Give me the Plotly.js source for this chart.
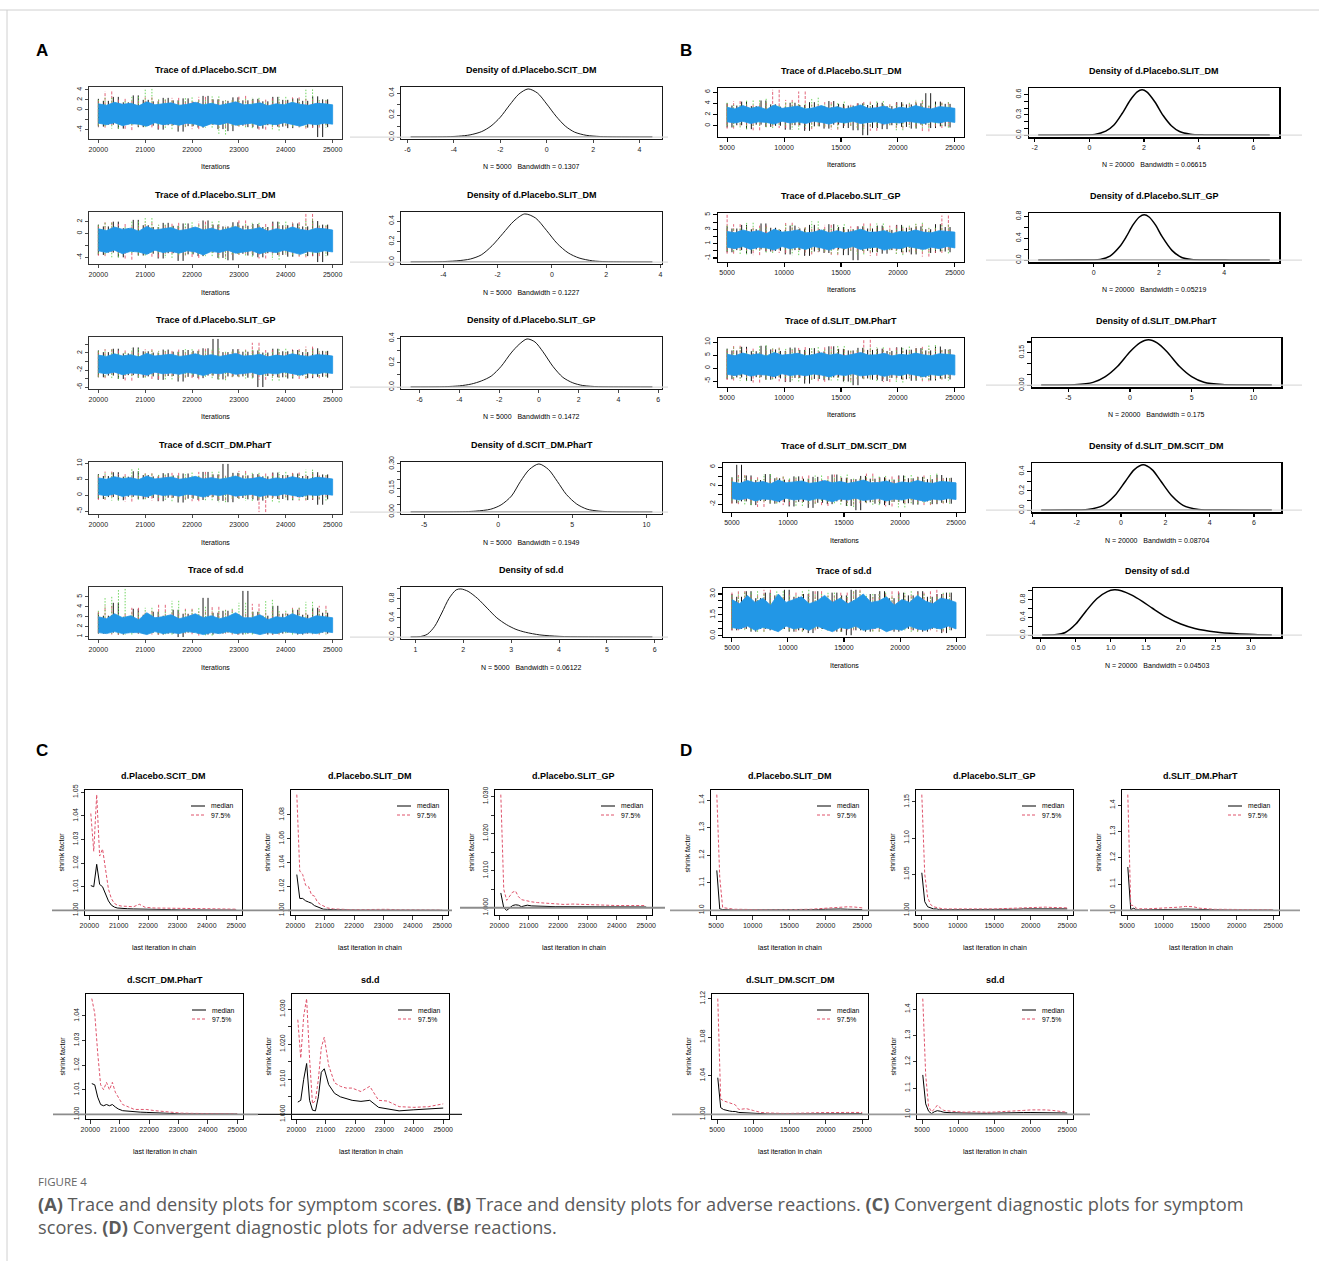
<!DOCTYPE html>
<html><head><meta charset="utf-8">
<script src="https://cdn.plot.ly/plotly-3.0.1.min.js"></script>
<style>html,body{margin:0;padding:0;background:#fff;}#chart{width:1319px;height:1261px;}</style>
</head><body><div id="chart"></div>
<script>
// ---------------- DATA ----------------
const iterA = [20001, 25000];
const iterB = [5001, 25000];
const ticksIterA = [20000, 21000, 22000, 23000, 24000, 25000];
const ticksIterB = [5000, 10000, 15000, 20000, 25000];

// Panel A traces (blue band upper/lower envelope, black/red/green chains)
const trA1Hi = [1.2,0.9,1.5,1.1,1.3,0.8,1.6,1.0,1.2,1.4,0.9,1.1,1.5,1.0,1.3,0.9,1.2,1.6,1.0,1.1,1.4,0.8,1.2,1.0,1.5,1.1,0.9,1.3,1.2,1.0];
const trA1Lo = [-2.7,-3.0,-2.6,-3.2,-2.8,-2.9,-3.3,-2.6,-3.0,-2.8,-3.1,-2.7,-2.9,-3.4,-2.8,-3.0,-2.6,-3.1,-2.9,-2.7,-3.2,-2.8,-3.0,-2.6,-2.9,-3.3,-2.8,-3.0,-2.7,-2.9];
const trA1K = [2.2,-3.4,1.8,-3.0,2.6,-3.8,1.5,-2.9,2.9,-3.5,2.0,-3.2,1.7,-4.0,2.4,-3.1,1.9,-4.4,2.3,-3.3,1.6,-3.6,2.8,-3.0,2.1,-3.9,1.8,-4.3,2.5,-3.2,1.9,-3.5,2.2,-3.8,1.7,-3.1,2.6,-3.4,2.0,-3.7,2.3,-3.0,1.8,-3.6,2.7,-5.5,2.1,-3.5];
const trA1R = [1.9,-3.6,3.7,-3.1,2.2,-4.1,1.8,-3.3,2.5,-3.8,2.0,-3.2,2.4,-3.5,1.7,-3.9,2.6,-3.0,2.1,-3.7,1.9,-3.4,2.8,-3.2,2.0,-4.0,2.3,-3.5,1.8,-3.3,2.5,-3.8,2.2,-3.6,1.9,-3.1];
const trA1G = [2.0,-3.3,2.4,-3.8,1.7,-3.1,2.6,-3.5,4.2,-3.0,2.1,-3.9,1.8,-3.4,2.5,-3.2,2.0,-3.6,2.7,-5.0,1.9,-3.3,2.2,-3.7,2.4,-3.1,1.8,-4.2,2.6,-3.4,2.1,-3.5,4.1,-3.2,2.0,-3.6];

const trA2Hi = [0.8,0.5,1.1,0.7,0.9,0.4,1.2,0.6,0.8,1.0,0.5,0.7,1.1,0.6,0.9,0.5,0.8,1.2,0.6,0.7,1.0,0.4,0.8,0.6,1.1,0.7,0.5,0.9,0.8,0.6];
const trA2Lo = [-2.9,-3.2,-2.8,-3.4,-3.0,-3.1,-3.5,-2.8,-3.2,-3.0,-3.3,-2.9,-3.1,-3.6,-3.0,-3.2,-2.8,-3.3,-3.1,-2.9,-3.4,-3.0,-3.2,-2.8,-3.1,-3.5,-3.0,-3.2,-2.9,-3.1];
const trA2K = [1.5,-3.6,1.2,-3.2,2.0,-4.0,0.9,-3.1,2.3,-3.7,1.4,-3.4,1.1,-4.2,1.8,-3.3,1.3,-4.6,1.7,-3.5,1.0,-3.8,2.2,-3.2,1.5,-4.1,1.2,-4.5,1.9,-3.4,1.3,-3.7,1.6,-4.0,1.1,-3.3,2.0,-3.6,1.4,-3.9,1.7,-3.2,1.2,-3.8,2.1,-4.8,1.5,-3.7];
const trA2R = [1.3,-3.8,1.9,-3.3,1.6,-4.4,1.2,-3.5,1.9,-4.0,1.4,-3.4,1.8,-3.7,1.1,-4.1,2.0,-3.2,1.5,-3.9,1.3,-3.6,2.2,-3.4,1.4,-4.2,1.7,-3.7,1.2,-3.5,1.9,-4.0,3.3,-3.8,1.3,-3.3];
const trA2G = [1.4,-3.5,1.8,-4.0,1.1,-3.3,2.0,-3.7,2.6,-3.2,1.5,-4.1,1.2,-3.6,1.9,-3.4,1.4,-3.8,2.1,-4.3,1.3,-3.5,1.6,-3.9,1.8,-3.3,1.2,-4.4,2.0,-3.6,1.5,-3.7,2.4,-3.4,1.4,-3.8];

const trA3Hi = [1.5,1.2,1.8,1.3,1.6,1.1,1.9,1.3,1.5,1.7,1.2,1.4,1.8,1.3,1.6,1.2,1.5,1.9,1.3,1.4,1.7,1.1,1.5,1.3,1.8,1.4,1.2,1.6,1.5,1.3];
const trA3Lo = [-2.6,-2.9,-2.5,-3.1,-2.7,-2.8,-3.2,-2.5,-2.9,-2.7,-3.0,-2.6,-2.8,-3.3,-2.7,-2.9,-2.5,-3.0,-2.8,-2.6,-3.1,-2.7,-2.9,-2.5,-2.8,-3.2,-2.7,-2.9,-2.6,-2.8];
const trA3K = [2.6,-3.7,2.2,-3.3,3.0,-4.1,1.9,-3.2,3.3,-3.8,2.4,-3.5,2.1,-4.3,2.8,-3.4,2.3,-4.7,2.7,-3.6,2.5,-3.9,3.1,-3.3,5.3,-4.2,2.2,-3.5,2.9,-3.5,2.3,-3.8,2.6,-6.0,2.1,-3.4,3.0,-3.7,2.4,-4.0,2.7,-3.3,2.2,-3.9,3.1,-3.6,2.5,-3.8];
const trA3R = [2.3,-3.9,2.9,-3.4,2.6,-4.5,2.2,-3.6,2.9,-4.1,2.4,-3.5,2.8,-3.8,2.1,-4.2,3.0,-3.3,2.5,-4.0,2.3,-3.7,2.8,-3.5,4.4,-4.3,2.7,-3.8,2.2,-3.6,2.9,-4.1,3.5,-3.9,2.3,-3.4];
const trA3G = [2.4,-3.6,2.8,-4.1,2.1,-3.4,3.0,-3.8,2.6,-3.3,2.5,-4.2,2.2,-3.7,2.9,-3.5,2.4,-3.9,3.1,-4.4,2.3,-3.6,2.6,-4.0,2.8,-3.4,2.2,-4.5,3.0,-3.7,2.5,-3.8,2.8,-3.5,2.4,-3.9];

const trA4Hi = [5.4,5.0,5.8,5.2,5.5,4.9,6.0,5.1,5.4,5.7,5.0,5.3,5.9,5.1,5.5,5.0,5.4,6.0,5.1,5.2,5.7,4.9,5.4,5.1,5.8,5.2,5.0,5.6,5.4,5.1];
const trA4Lo = [0.2,-0.2,0.4,-0.4,0.1,0.0,-0.5,0.4,-0.1,0.1,-0.3,0.3,0.0,-0.6,0.2,-0.1,0.4,-0.3,0.0,0.2,-0.4,0.1,-0.2,0.4,0.0,-0.5,0.1,-0.1,0.3,0.0];
const trA4K = [6.6,-1.2,6.0,-0.6,7.2,-1.6,5.8,-0.5,7.5,-1.3,6.3,-0.9,5.9,-1.9,6.9,-0.8,6.2,-2.3,6.8,-1.1,5.7,-1.5,7.3,-0.6,6.5,-1.8,9.8,-2.2,7.0,-0.9,6.2,-1.3,6.6,-1.7,5.9,-0.8,7.1,-1.2,6.3,-1.6,6.8,-0.6,6.0,-1.5,7.2,-3.0,6.5,-1.3];
const trA4R = [6.2,-1.5,7.4,-0.8,6.6,-2.0,5.9,-1.1,6.9,-1.7,6.3,-0.9,7.0,-1.4,5.8,-1.9,7.3,-0.7,6.5,-1.6,6.1,-1.2,7.6,-0.9,6.4,-5.3,6.8,-1.3,5.9,-1.0,7.1,-1.7,6.6,-1.4,6.2,-0.8];
const trA4G = [6.3,-1.1,7.0,-1.7,5.9,-0.8,8.4,-1.3,6.7,-0.7,6.5,-1.9,6.0,-1.4,7.1,-1.0,6.4,-1.6,7.4,-2.2,6.1,-1.1,6.8,-1.8,7.0,-1.0,6.0,-2.3,7.3,-1.3,6.5,-1.5,8.0,-1.2,6.3,-1.7];

const trA5Hi = [3.0,2.8,3.3,2.9,3.1,2.7,3.4,2.9,3.0,3.2,2.8,3.0,3.3,2.9,3.1,2.8,3.0,3.4,2.9,2.9,3.2,2.7,3.0,2.9,3.3,3.0,2.8,3.1,3.0,2.9];
const trA5Lo = [1.4,1.3,1.5,1.3,1.4,1.4,1.2,1.5,1.3,1.4,1.3,1.5,1.4,1.2,1.4,1.3,1.5,1.3,1.4,1.4,1.2,1.4,1.3,1.5,1.4,1.3,1.4,1.3,1.5,1.4];
const trA5K = [3.4,1.3,3.1,1.4,4.4,1.2,3.0,1.4,3.8,1.3,3.2,1.4,3.5,1.2,3.1,1.3,3.7,0.95,3.3,1.4,3.0,1.3,4.9,1.2,3.4,1.3,3.6,1.4,3.2,1.2,5.6,1.3,3.5,1.4,3.1,1.2,4.1,1.3,3.3,1.4,3.7,1.2,3.2,1.3,3.9,1.4,3.4,1.3];
const trA5R = [3.5,1.3,4.1,1.2,3.3,1.4,3.9,1.3,3.6,1.2,4.2,1.4,3.4,1.3,3.8,1.1,3.5,1.4,4.0,1.3,3.7,1.2,3.3,1.4,4.3,1.3,3.6,1.2,3.4,1.4,3.9,1.3,3.5,1.2,4.1,1.3];
const trA5G = [3.6,1.4,5.0,1.3,5.8,1.2,3.4,1.4,3.9,1.3,3.5,1.2,4.6,1.4,3.7,1.3,4.0,1.1,3.6,1.4,3.8,1.3,4.4,1.2,3.5,1.4,4.7,1.3,3.6,1.2,3.9,1.4,4.5,1.3,3.7,1.2];

// Panel B traces
const trB1Hi = [3.3,3.0,3.6,3.1,3.4,2.9,3.7,3.1,3.3,3.5,3.0,3.2,3.6,3.1,3.4,3.0,3.3,3.7,3.1,3.2,3.5,2.9,3.3,3.1,3.6,3.2,3.0,3.4,3.3,3.1];
const trB1Lo = [0.7,0.5,0.8,0.4,0.7,0.6,0.3,0.8,0.5,0.7,0.4,0.8,0.6,0.3,0.7,0.5,0.8,0.4,0.6,0.7,0.3,0.6,0.5,0.8,0.6,0.4,0.7,0.5,0.8,0.6];
const trB1K = [4.0,-0.3,3.6,0.1,4.3,-0.6,3.5,0.2,4.5,-0.2,3.8,0.0,3.4,-0.7,4.1,0.1,3.7,-0.9,4.2,-0.1,3.5,-0.5,4.4,0.2,3.9,-0.4,3.6,-0.8,4.0,-1.67,3.7,-0.4,4.1,-0.6,3.5,0.1,4.2,-0.2,3.8,-0.5,4.0,0.2,5.8,-0.4,4.3,-0.1,3.9,-0.3];
const trB1R = [3.9,-0.5,4.4,0.0,3.7,-0.8,4.1,-0.1,6.4,-0.4,4.6,0.1,6.1,-0.6,3.8,-0.2,4.2,-0.7,3.5,0.0,4.0,-0.3,4.3,-0.9,3.7,0.1,4.1,-0.5,3.9,-0.2,4.4,-1.0,3.6,-0.4,4.2,-0.1];
const trB1G = [4.1,-0.2,3.7,-0.6,4.5,0.0,4.8,-0.4,3.6,0.1,4.2,-0.7,3.9,-0.3,5.0,-0.1,3.8,-0.5,4.3,0.0,3.6,-0.6,4.0,-0.2,4.4,0.1,3.7,-0.8,4.1,-0.3,4.6,-0.4,3.8,0.0,4.2,-0.5];

const trB2Hi = [2.7,2.5,2.9,2.6,2.8,2.4,3.0,2.6,2.7,2.9,2.5,2.6,2.9,2.5,2.8,2.5,2.7,3.0,2.6,2.6,2.8,2.4,2.7,2.6,2.9,2.6,2.5,2.8,2.7,2.6];
const trB2Lo = [0.5,0.3,0.6,0.2,0.5,0.4,0.1,0.6,0.3,0.5,0.2,0.6,0.4,0.1,0.5,0.3,0.6,0.2,0.4,0.5,0.1,0.4,0.3,0.6,0.4,0.2,0.5,0.3,0.6,0.4];
const trB2K = [3.4,-0.2,3.1,0.1,3.6,-0.4,3.0,0.2,3.8,-0.1,3.2,0.0,2.9,-0.5,3.5,0.1,3.1,-0.7,3.6,-0.1,3.0,-0.3,3.7,0.2,3.3,-0.6,3.0,-1.3,3.4,0.0,3.1,-0.2,3.5,-0.4,2.9,0.1,3.6,-0.2,3.2,-0.5,3.4,0.2,3.0,-0.3,3.7,-0.1,3.3,-0.2];
const trB2R = [5.0,-0.4,3.7,0.0,3.2,-0.6,3.5,-0.1,3.0,-0.3,3.9,0.1,3.3,-0.5,3.1,-0.2,3.6,-0.6,3.0,0.0,3.4,-0.3,3.8,-0.7,3.2,0.1,3.5,-0.4,3.3,-0.2,3.7,-0.8,3.1,-0.3,4.9,-0.1];
const trB2G = [3.5,-0.1,3.1,-0.5,3.9,0.0,3.3,-0.3,3.0,0.1,3.6,-0.6,3.2,-0.2,4.1,-0.1,3.1,-0.4,3.7,0.0,3.0,-0.5,3.4,-0.1,3.8,0.1,3.1,-0.6,3.5,-0.2,3.9,-0.3,3.2,0.0,3.6,-0.4];

const trB3Hi = [5.3,4.8,5.8,5.0,5.5,4.7,6.0,5.0,5.3,5.7,4.8,5.2,5.9,5.0,5.5,4.8,5.3,6.0,5.0,5.1,5.7,4.7,5.3,5.0,5.8,5.1,4.8,5.5,5.3,5.0];
const trB3Lo = [-2.4,-2.9,-2.2,-3.1,-2.5,-2.7,-3.3,-2.2,-2.9,-2.5,-3.0,-2.3,-2.7,-3.4,-2.5,-2.9,-2.2,-3.0,-2.7,-2.4,-3.2,-2.5,-2.9,-2.2,-2.7,-3.3,-2.5,-2.9,-2.3,-2.7];
const trB3K = [7.5,-4.3,6.8,-3.6,8.2,-5.0,6.5,-3.5,8.6,-4.5,7.2,-4.0,6.6,-5.4,7.9,-3.8,7.0,-6.0,7.7,-4.2,6.4,-4.7,8.4,-3.6,7.4,-5.2,6.8,-6.6,7.8,-4.0,7.0,-4.5,7.5,-5.0,6.6,-3.8,8.0,-4.3,7.1,-4.9,7.7,-3.6,6.8,-4.8,8.3,-4.1,7.3,-4.4];
const trB3R = [7.0,-4.8,8.6,-3.9,7.5,-5.6,6.7,-4.1,7.9,-5.1,7.1,-3.8,8.1,-4.5,6.5,-5.3,8.4,-3.7,7.3,-4.9,6.9,-4.3,10.9,-3.9,7.2,-5.4,7.8,-4.6,6.7,-4.0,8.2,-5.1,7.5,-4.5,7.0,-3.8];
const trB3G = [7.2,-4.0,8.0,-5.0,6.7,-3.7,8.8,-4.4,7.6,-3.6,7.4,-5.2,6.8,-4.5,8.1,-3.9,7.2,-4.8,8.5,-5.5,6.9,-4.1,7.7,-5.0,8.0,-3.8,6.8,-5.6,8.3,-4.4,7.4,-4.6,8.9,-4.2,7.1,-4.9];

const trB4Hi = [2.8,2.5,3.1,2.6,2.9,2.4,3.2,2.6,2.8,3.0,2.5,2.7,3.1,2.6,2.9,2.5,2.8,3.2,2.6,2.7,3.0,2.4,2.8,2.6,3.1,2.7,2.5,2.9,2.8,2.6];
const trB4Lo = [-0.8,-1.1,-0.7,-1.3,-0.9,-1.0,-1.4,-0.7,-1.1,-0.9,-1.2,-0.8,-1.0,-1.5,-0.9,-1.1,-0.7,-1.2,-1.0,-0.8,-1.3,-0.9,-1.1,-0.7,-1.0,-1.4,-0.9,-1.1,-0.8,-1.0];
const trB4K = [3.8,-1.8,6.5,-1.4,4.2,-2.2,3.2,-1.3,4.5,-1.9,3.6,-1.6,3.3,-2.5,4.0,-1.5,3.5,-2.8,3.9,-1.7,3.1,-2.0,4.4,-1.4,3.7,-2.4,3.4,-3.3,4.1,-1.6,3.5,-1.9,3.8,-2.2,3.3,-1.5,4.2,-1.8,3.6,-2.1,3.9,-1.4,3.4,-2.0,4.3,-1.7,3.7,-1.9];
const trB4R = [3.6,-2.0,4.3,-1.5,3.8,-2.6,3.4,-1.7,4.0,-2.2,3.6,-1.5,4.2,-1.9,3.3,-2.4,4.4,-1.4,3.7,-2.1,3.5,-1.8,4.6,-1.5,3.7,-2.5,4.0,-1.9,3.4,-1.6,4.2,-2.2,3.8,-1.9,3.6,-1.5];
const trB4G = [3.7,-1.6,4.1,-2.2,3.4,-1.4,4.5,-1.9,3.9,-1.3,3.8,-2.4,3.5,-1.9,4.2,-1.5,3.7,-2.1,4.4,-2.6,3.5,-1.7,4.0,-2.2,4.1,-1.5,3.4,-2.7,4.3,-1.8,3.8,-1.9,4.6,-1.7,3.6,-2.1];

const trB5Hi = [2.6,2.3,2.9,2.4,2.7,2.2,3.0,2.4,2.6,2.8,2.3,2.5,2.9,2.4,2.7,2.3,2.6,3.0,2.4,2.5,2.8,2.2,2.6,2.4,2.9,2.5,2.3,2.7,2.6,2.4];
const trB5Lo = [0.6,0.5,0.7,0.4,0.6,0.5,0.3,0.7,0.5,0.6,0.4,0.7,0.5,0.3,0.6,0.5,0.7,0.4,0.5,0.6,0.3,0.5,0.4,0.7,0.5,0.4,0.6,0.5,0.7,0.5];
const trB5K = [3.0,0.4,2.8,0.5,3.2,0.3,2.7,0.5,3.1,0.4,2.9,0.5,3.3,0.3,2.8,0.4,3.0,0.2,3.2,0.5,2.7,0.4,3.1,0.3,2.9,0.05,3.3,0.4,2.8,0.3,3.0,0.5,3.2,0.4,2.7,0.3,3.1,0.5,2.9,0.4,3.2,0.3,2.8,0.5,3.0,0.2,3.1,0.4];
const trB5R = [3.1,0.4,3.2,0.5,2.9,0.3,3.3,0.4,2.8,0.5,3.1,0.3,3.0,0.4,3.2,0.5,2.9,0.3,3.1,0.4,3.3,0.5,2.8,0.3,3.0,0.4,3.2,0.5,2.9,0.3,3.1,0.4,3.3,0.3,3.0,0.5];
const trB5G = [2.9,0.5,3.1,0.4,3.2,0.3,3.0,0.5,3.2,0.4,2.9,0.3,3.3,0.5,3.0,0.4,3.1,0.3,2.8,0.5,3.2,0.4,3.0,0.3,3.1,0.5,2.9,0.4,3.2,0.3,3.0,0.5,2.8,0.4,3.1,0.3];

// Density curves
const dnA1x = [-5.86,-4.5,-3.8,-3.3,-2.8,-2.4,-2.0,-1.6,-1.2,-0.8,-0.4,0.0,0.4,0.8,1.2,1.7,2.3,3.0,4.55];
const dnA1y = [0,0.002,0.008,0.02,0.05,0.10,0.18,0.29,0.39,0.437,0.40,0.30,0.19,0.10,0.045,0.016,0.005,0.001,0];
const dnA2x = [-5.2,-4.2,-3.5,-3.0,-2.6,-2.2,-1.8,-1.4,-1.0,-0.6,-0.2,0.2,0.6,1.0,1.5,2.0,2.8,3.7];
const dnA2y = [0,0.003,0.012,0.03,0.07,0.16,0.28,0.40,0.47,0.43,0.31,0.18,0.09,0.04,0.012,0.004,0.001,0];
const dnA3x = [-6.45,-5,-4,-3.4,-2.9,-2.4,-1.9,-1.4,-1.0,-0.6,-0.2,0.2,0.7,1.2,1.7,2.2,3.0,4.0,5.7];
const dnA3y = [0,0.002,0.01,0.025,0.05,0.09,0.17,0.28,0.35,0.395,0.37,0.29,0.17,0.08,0.035,0.013,0.003,0.001,0];
const dnA4x = [-5.9,-3,-1.5,-0.5,0.2,0.9,1.5,2.1,2.75,3.4,4.0,4.6,5.3,6.0,6.8,8.0,10.4];
const dnA4y = [0,0.001,0.006,0.018,0.045,0.10,0.19,0.265,0.30,0.265,0.19,0.11,0.05,0.018,0.006,0.001,0];
const dnA5x = [0.9,1.1,1.25,1.4,1.55,1.7,1.85,1.95,2.1,2.3,2.5,2.7,2.9,3.1,3.3,3.6,4.0,4.5,5.0,5.95];
const dnA5y = [0,0.01,0.06,0.22,0.50,0.80,0.98,1.0,0.95,0.80,0.60,0.40,0.26,0.16,0.10,0.045,0.015,0.005,0.002,0];
const dnB1x = [-1.87,-0.5,0.2,0.6,0.9,1.2,1.5,1.75,1.93,2.1,2.4,2.7,3.0,3.3,3.7,4.2,5.0,6.6];
const dnB1y = [0,0.002,0.012,0.06,0.15,0.32,0.52,0.64,0.67,0.64,0.49,0.29,0.14,0.055,0.015,0.004,0.001,0];
const dnB2x = [-1.7,-0.5,0.2,0.5,0.8,1.0,1.2,1.4,1.55,1.7,1.9,2.1,2.4,2.7,3.0,3.5,4.2,5.4];
const dnB2y = [0,0.002,0.015,0.075,0.25,0.43,0.64,0.79,0.83,0.79,0.64,0.43,0.18,0.05,0.012,0.003,0.001,0];
const dnB3x = [-7.2,-4.5,-3,-2,-1,0,0.8,1.5,2.2,3,4,5,6,7.5,9,11.5];
const dnB3y = [0,0.002,0.013,0.04,0.088,0.155,0.196,0.21,0.196,0.155,0.088,0.04,0.014,0.003,0.001,0];
const dnB4x = [-3.6,-2.5,-1.5,-0.8,-0.3,0.2,0.6,1.0,1.4,1.8,2.3,2.8,3.5,4.5,6.8];
const dnB4y = [0,0.002,0.008,0.05,0.146,0.30,0.42,0.47,0.42,0.30,0.146,0.05,0.008,0.001,0];
const dnB5x = [0.02,0.2,0.35,0.5,0.65,0.8,0.95,1.05,1.15,1.3,1.45,1.6,1.8,2.0,2.2,2.5,2.8,3.1,3.3];
const dnB5y = [0,0.01,0.06,0.25,0.55,0.82,0.98,1.02,1.0,0.90,0.76,0.60,0.40,0.25,0.15,0.07,0.03,0.01,0];

// Gelman shrink factor curves
const gelItC = [20050,20150,20250,20350,20450,20550,20650,20750,20850,20950,21100,21300,21500,21700,21900,22200,22500,22800,23100,23500,24000,24500,25000];
const gelC1Med = [1.0105,1.0100,1.0195,1.0110,1.0100,1.0070,1.0040,1.0022,1.0014,1.0010,1.0008,1.0007,1.0006,1.0006,1.0005,1.0004,1.0003,1.0003,1.0002,1.0002,1.0001,1.0001,1.0001];
const gelC1Up  = [1.041,1.025,1.049,1.023,1.026,1.017,1.009,1.005,1.003,1.0022,1.0018,1.0017,1.0015,1.0026,1.0013,1.0010,1.0009,1.0010,1.0008,1.0007,1.0007,1.0006,1.0005];
const gelC2Med = [1.030,1.010,1.010,1.008,1.007,1.006,1.004,1.003,1.0015,1.0010,1.0008,1.0005,1.0003,1.0002,1.0002,1.0001,1.0001,1.0001,1.0001,1.0001,1.0000,1.0000,1.0000];
const gelC2Up  = [1.097,1.033,1.030,1.021,1.020,1.013,1.012,1.007,1.005,1.004,1.002,1.0012,1.0008,1.0007,1.0006,1.0006,1.0008,1.0006,1.0009,1.0005,1.0004,1.0003,1.0002];
const gelC3Med = [1.0040,1.0000,0.9993,1.0000,1.0006,1.0008,1.0007,1.0003,1.0006,1.0007,1.0005,1.0004,1.0004,1.0004,1.0003,1.0003,1.0003,1.0003,1.0002,1.0002,1.0002,1.0002,1.0002];
const gelC3Up  = [1.0305,1.0050,1.0020,1.0030,1.0042,1.0045,1.0030,1.0022,1.0020,1.0020,1.0016,1.0014,1.0013,1.0013,1.0010,1.0009,1.0010,1.0009,1.0008,1.0006,1.0006,1.0006,1.0006];
const gelC4Med = [1.0125,1.0120,1.0070,1.0040,1.0035,1.0040,1.0035,1.0040,1.0030,1.0022,1.0015,1.0012,1.0010,1.0009,1.0008,1.0006,1.0003,1.0002,1.0002,1.0002,1.0001,1.0001,1.0001];
const gelC4Up  = [1.047,1.041,1.025,1.012,1.010,1.013,1.010,1.013,1.009,1.007,1.004,1.003,1.002,1.002,1.002,1.0015,1.0012,1.0007,1.0005,1.0004,1.0003,1.0003,1.0002];
const gelC5Med = [1.0035,1.0040,1.0100,1.0145,1.0040,1.0012,1.0010,1.0050,1.0120,1.0130,1.0085,1.0060,1.0050,1.0045,1.0040,1.0037,1.0040,1.0020,1.0015,1.0010,1.0013,1.0015,1.0018];
const gelC5Up  = [1.027,1.016,1.028,1.033,1.016,1.003,1.004,1.010,1.019,1.022,1.014,1.009,1.008,1.0075,1.0075,1.0065,1.008,1.004,1.0038,1.0022,1.002,1.0022,1.003];

const gelItD = [5100,5500,5900,6300,6700,7100,7500,8000,9000,10000,11000,12000,13000,14000,15000,16000,17000,18000,19000,20000,21000,22000,23000,24000,25000];
const gelD1Med = [1.145,1.005,1.003,1.002,1.002,1.002,1.001,1.001,1.001,1.001,1.001,1.001,1.001,1.001,1.001,1.001,1.001,1.002,1.003,1.004,1.005,1.005,1.004,1.003,1.003];
const gelD1Up  = [1.42,1.12,1.010,1.008,1.006,1.005,1.004,1.004,1.003,1.003,1.002,1.002,1.002,1.002,1.002,1.002,1.003,1.004,1.006,1.008,1.010,1.012,1.013,1.012,1.009];
const gelD2Med = [1.052,1.012,1.005,1.003,1.002,1.002,1.001,1.001,1.001,1.0008,1.0008,1.0008,1.0008,1.0008,1.001,1.001,1.0012,1.0015,1.002,1.002,1.0025,1.0025,1.002,1.002,1.002];
const gelD2Up  = [1.160,1.050,1.018,1.008,1.005,1.004,1.003,1.002,1.002,1.0018,1.0018,1.0018,1.002,1.002,1.002,1.0025,1.003,1.003,1.004,1.004,1.005,1.0045,1.004,1.004,1.0035];
const gelD3Med = [1.165,1.003,1.008,1.002,1.002,1.002,1.002,1.002,1.002,1.003,1.003,1.004,1.005,1.004,1.003,1.002,1.002,1.001,1.001,1.001,1.001,1.001,1.001,1.001,1.001];
const gelD3Up  = [1.44,1.02,1.018,1.008,1.006,1.005,1.006,1.006,1.007,1.008,1.010,1.012,1.015,1.014,1.008,1.005,1.004,1.004,1.004,1.004,1.004,1.004,1.003,1.003,1.002];
const gelD4Med = [1.038,1.007,1.005,1.004,1.0035,1.003,1.003,1.002,1.0015,1.001,1.0005,1.0004,1.0004,1.0004,1.0004,1.0005,1.0005,1.0006,1.0006,1.0007,1.0007,1.0007,1.0007,1.0007,1.0007];
const gelD4Up  = [1.12,1.016,1.014,1.013,1.012,1.011,1.010,1.005,1.006,1.004,1.002,1.0015,1.001,1.001,1.001,1.001,1.0012,1.0015,1.0018,1.002,1.002,1.002,1.002,1.002,1.002];
const gelD5Med = [1.15,1.04,1.012,1.003,1.010,1.014,1.012,1.008,1.006,1.005,1.004,1.004,1.004,1.004,1.005,1.005,1.006,1.006,1.007,1.007,1.007,1.006,1.006,1.005,1.005];
const gelD5Up  = [1.44,1.15,1.03,1.010,1.020,1.035,1.025,1.015,1.012,1.010,1.008,1.010,1.008,1.008,1.009,1.010,1.012,1.013,1.015,1.017,1.018,1.017,1.015,1.012,1.008];

// tick labels
const yTrA = [[-4,-2,0,2,4],['-4','','0','2','4']];
const yTrA2 = [[-4,-2,0,2],['-4','','0','2']];
const yTrA3 = [[-6,-4,-2,0,2,4],['-6','','-2','','2','']];
const yTrA4 = [[-5,0,5,10],['-5','0','5','10']];
const yTrA5 = [[1,2,3,4,5],['1','2','3','4','5']];
const yTrB1 = [[0,2,4,6],['0','2','4','6']];
const yTrB2 = [[-1,0,1,2,3,4,5],['-1','','1','','3','','5']];
const yTrB3 = [[-5,0,5,10],['-5','0','5','10']];
const yTrB4 = [[-2,0,2,4,6],['-2','','2','','6']];
const yTrB5 = [[0,0.5,1,1.5,2,2.5,3],['0.0','','','1.5','','','3.0']];
const yDn4 = [[0,0.1,0.2,0.3,0.4],['0.0','','0.2','','0.4']];
const yDnA4 = [[0,0.05,0.1,0.15,0.2,0.25,0.3],['0.00','','','0.15','','','0.30']];
const yDn10 = [[0,0.2,0.4,0.6,0.8,1.0],['0.0','','0.4','','0.8','']];
const yDnB1 = [[0,0.1,0.2,0.3,0.4,0.5,0.6],['0.0','','','0.3','','','0.6']];
const yDnB2 = [[0,0.2,0.4,0.6,0.8],['0.0','','0.4','','0.8']];
const yDnB3 = [[0,0.05,0.1,0.15,0.2],['0.00','','','0.15','']];

// ---------------- BUILD ----------------
const W = 1319, H = 1261;
const COL = {k:'#000000', r:'#DF536B', g:'#61D04F', b:'#2297E6'};
const FONT = 'Liberation Sans, Arial, Helvetica, sans-serif';
const data = [];
const layout = {width:W, height:H, margin:{l:0,r:0,t:0,b:0}, paper_bgcolor:'#fff', plot_bgcolor:'rgba(0,0,0,0)',
  showlegend:false, annotations:[], shapes:[], hovermode:false};
let axN = 0;
function common(lw){
  return {showline:true, mirror:true, linecolor:'#000', linewidth:lw, ticks:'outside', ticklen:3.5,
    tickwidth:Math.max(0.7, lw*0.8), tickcolor:'#000', showgrid:false, zeroline:false, fixedrange:true,
    tickfont:{family:FONT, size:7, color:'#222'}};
}
function newAxes(box, xr, yr, xt, xtl, yt, ytl, lw){
  axN++;
  const sfx = axN === 1 ? '' : String(axN);
  layout['xaxis'+sfx] = Object.assign(common(lw), {domain:[box[0]/W, box[1]/W], anchor:'y'+sfx, range:xr, tickmode:'array', tickvals:xt, ticktext:xtl});
  layout['yaxis'+sfx] = Object.assign(common(lw), {domain:[1-box[3]/H, 1-box[2]/H], anchor:'x'+sfx, range:yr, tickmode:'array', tickvals:yt, ticktext:ytl, tickangle:-90});
  return {x:'x'+sfx, y:'y'+sfx};
}
function txt(x, y, t, size, opts){
  layout.annotations.push(Object.assign({xref:'paper', yref:'paper', x:x/W, y:1-y/H, text:t, showarrow:false,
    font:{family:FONT, size:size, color:'#000'}, xanchor:'center', yanchor:'middle'}, opts || {}));
}
function hline(x0, x1, y, color, width, dash){
  layout.shapes.push({type:'line', xref:'paper', yref:'paper', x0:x0/W, x1:x1/W, y0:1-y/H, y1:1-y/H, line:{color:color, width:width, dash:dash||'solid'}});
}
function evenX(it, n){ const a=[]; for(let i=0;i<n;i++) a.push(it[0] + i*(it[1]-it[0])/(n-1)); return a; }
// consecutive chain values drawn as near-vertical strokes (as dense MCMC traces look)
function strokes(it, v){
  const xs = evenX(it, v.length), X = [], Y = [];
  for(let i=0;i<v.length-1;i++){ X.push(xs[i], xs[i], null); Y.push(v[i], v[i+1], null); }
  return {x:X, y:Y};
}

function tracePlot(box, it, xt, hi, lo, k, r, g, yt, title, lw){
  const all = hi.concat(lo, k, r, g);
  const mn = Math.min(...all), mx = Math.max(...all), p = (mx-mn)*0.04, sp = (it[1]-it[0])*0.04;
  const ax = newAxes(box, [it[0]-sp, it[1]+sp], [mn-p, mx+p], xt, xt.map(String), yt[0], yt[1], lw);
  const base = {mode:'lines', xaxis:ax.x, yaxis:ax.y, hoverinfo:'skip', connectgaps:false};
  const sk = strokes(it, k), sr = strokes(it, r), sg = strokes(it, g);
  data.push(Object.assign({x:sk.x, y:sk.y, line:{color:COL.k, width:0.9}}, base));
  data.push(Object.assign({x:sr.x, y:sr.y, line:{color:COL.r, width:0.9, dash:'3px,1.5px'}}, base));
  data.push(Object.assign({x:sg.x, y:sg.y, line:{color:COL.g, width:0.9, dash:'1.5px,1.5px'}}, base));
  const xh = evenX(it, hi.length);
  data.push(Object.assign({x:xh.concat(xh.slice().reverse()), y:hi.concat(lo.slice().reverse()), fill:'toself', fillcolor:COL.b, line:{color:COL.b, width:0.8}}, base));
  txt((box[0]+box[1])/2, box[2]-17, '<b>'+title+'</b>', 9);
  txt((box[0]+box[1])/2, box[3]+28, 'Iterations', 7);
}
function densPlot(box, dx, dy, xt, xtl, yt, title, cap, lw, gl){
  const mn = Math.min(...dx), mx = Math.max(...dx), p = (mx-mn)*0.04, pk = Math.max(...dy);
  hline(gl[0], gl[1], box[3] - (box[3]-box[2])*0.04/1.08, '#dcdcdc', 1.2);
  const ax = newAxes(box, [mn-p, mx+p], [-pk*0.04, pk*1.04], xt, xtl, yt[0], yt[1], lw);
  data.push({x:[mn, mx], y:[pk*0.006, pk*0.006], mode:'lines', line:{color:'#8a8a8a', width:1.6}, xaxis:ax.x, yaxis:ax.y, hoverinfo:'skip'});
  data.push({x:dx, y:dy, mode:'lines', line:{color:'#000', width:lw, shape:'spline', smoothing:0.8}, xaxis:ax.x, yaxis:ax.y, hoverinfo:'skip'});
  txt((box[0]+box[1])/2, box[2]-17, '<b>'+title+'</b>', 9);
  txt((box[0]+box[1])/2, box[3]+28, cap, 7);
}
function gelPlot(box, gx, med, up, xt, yt, ytl, title, lcol, lwid, ext){
  const all = med.concat(up, [1]);
  const mn = Math.min(...all), mx = Math.max(...all), p = (mx-mn)*0.04;
  const sp = (gx[gx.length-1]-gx[0])*0.04;
  const yr = [mn-p, mx+p];
  const ax = newAxes(box, [gx[0]-sp, gx[gx.length-1]+sp], yr, xt, xt.map(String), yt, ytl, 1);
  data.push({x:gx, y:med, mode:'lines', line:{color:'#000', width:1}, xaxis:ax.x, yaxis:ax.y, hoverinfo:'skip'});
  data.push({x:gx, y:up, mode:'lines', line:{color:COL.r, width:1, dash:'3px,2px'}, xaxis:ax.x, yaxis:ax.y, hoverinfo:'skip'});
  layout.shapes.push({type:'line', xref:'paper', yref:ax.y, x0:ext[0]/W, x1:ext[1]/W, y0:1, y1:1, line:{color:lcol, width:lwid}});
  hline(box[1]-51, box[1]-37, box[2]+16, '#000', 1);
  hline(box[1]-51, box[1]-37, box[2]+25, COL.r, 1, '3px,2px');
  txt(box[1]-33, box[2]+16, 'median', 6.8, {xanchor:'left'});
  txt(box[1]-33, box[2]+25, '97.5%', 6.8, {xanchor:'left'});
  txt((box[0]+box[1])/2, box[2]-14, '<b>'+title+'</b>', 9);
  txt((box[0]+box[1])/2, box[3]+32, 'last iteration in chain', 7);
  txt(box[0]-24, (box[2]+box[3])/2, 'shrink factor', 7, {textangle:-90});
}

// Panel A
const rowsA = [
  ['d.Placebo.SCIT_DM', trA1Hi, trA1Lo, trA1K, trA1R, trA1G, yTrA,  dnA1x, dnA1y, [-6,-4,-2,0,2,4], yDn4, 'N = 5000   Bandwidth = 0.1307'],
  ['d.Placebo.SLIT_DM', trA2Hi, trA2Lo, trA2K, trA2R, trA2G, yTrA2, dnA2x, dnA2y, [-4,-2,0,2,4], yDn4, 'N = 5000   Bandwidth = 0.1227'],
  ['d.Placebo.SLIT_GP', trA3Hi, trA3Lo, trA3K, trA3R, trA3G, yTrA3, dnA3x, dnA3y, [-6,-4,-2,0,2,4,6], yDn4, 'N = 5000   Bandwidth = 0.1472'],
  ['d.SCIT_DM.PharT',   trA4Hi, trA4Lo, trA4K, trA4R, trA4G, yTrA4, dnA4x, dnA4y, [-5,0,5,10], yDnA4, 'N = 5000   Bandwidth = 0.1949'],
  ['sd.d',              trA5Hi, trA5Lo, trA5K, trA5R, trA5G, yTrA5, dnA5x, dnA5y, [1,2,3,4,5,6], yDn10, 'N = 5000   Bandwidth = 0.06122']
];
rowsA.forEach((rw, i) => {
  const y0 = 87 + 125*i, y1 = 139 + 125*i;
  tracePlot([89, 342, y0, y1], iterA, ticksIterA, rw[1], rw[2], rw[3], rw[4], rw[5], rw[6], 'Trace of '+rw[0], 0.8);
  densPlot([401, 662, y0, y1], rw[7], rw[8], rw[9], rw[9].map(String), rw[10], 'Density of '+rw[0], rw[11], 0.9, [350, 668]);
});

// Panel B
const rowsB = [
  ['d.Placebo.SLIT_DM', trB1Hi, trB1Lo, trB1K, trB1R, trB1G, yTrB1, dnB1x, dnB1y, [-2,0,2,4,6], null, yDnB1, 'N = 20000   Bandwidth = 0.06615'],
  ['d.Placebo.SLIT_GP', trB2Hi, trB2Lo, trB2K, trB2R, trB2G, yTrB2, dnB2x, dnB2y, [0,2,4], null, yDnB2, 'N = 20000   Bandwidth = 0.05219'],
  ['d.SLIT_DM.PharT',   trB3Hi, trB3Lo, trB3K, trB3R, trB3G, yTrB3, dnB3x, dnB3y, [-5,0,5,10], null, yDnB3, 'N = 20000   Bandwidth = 0.175'],
  ['d.SLIT_DM.SCIT_DM', trB4Hi, trB4Lo, trB4K, trB4R, trB4G, yTrB4, dnB4x, dnB4y, [-4,-2,0,2,4,6], null, yDn4, 'N = 20000   Bandwidth = 0.08704'],
  ['sd.d',              trB5Hi, trB5Lo, trB5K, trB5R, trB5G, yTrB5, dnB5x, dnB5y, [0,0.5,1,1.5,2,2.5,3], ['0.0','0.5','1.0','1.5','2.0','2.5','3.0'], yDn10, 'N = 20000   Bandwidth = 0.04503']
];
const bTraceX = [[718,964],[718,964],[718,964],[723,965],[723,965]];
const bDensX = [[1029,1279],[1029,1279],[1032,1281],[1032,1281],[1033,1281]];
rowsB.forEach((rw, i) => {
  const y0 = 88 + 125*i, y1 = 137 + 125*i;
  tracePlot([bTraceX[i][0], bTraceX[i][1], y0, y1], iterB, ticksIterB, rw[1], rw[2], rw[3], rw[4], rw[5], rw[6], 'Trace of '+rw[0], 1.3);
  densPlot([bDensX[i][0], bDensX[i][1], y0, y1], rw[7], rw[8], rw[9], rw[10] || rw[9].map(String), rw[11], 'Density of '+rw[0], rw[12], 1.5, [986, 1302]);
});

// Panel C
const cx = [20000,21000,22000,23000,24000,25000];
const dxT = [5000,10000,15000,20000,25000];
gelPlot([85,242,790,915], gelItC, gelC1Med, gelC1Up, cx, [1.00,1.01,1.02,1.03,1.04,1.05], ['1.00','1.01','1.02','1.03','1.04','1.05'], 'd.Placebo.SCIT_DM', '#8c8c8c', 1.8, [52, 290]);
gelPlot([291,448,790,915], gelItC, gelC2Med, gelC2Up, cx, [1.00,1.02,1.04,1.06,1.08], ['1.00','1.02','1.04','1.06','1.08'], 'd.Placebo.SLIT_DM', '#8c8c8c', 1.8, [288, 452]);
gelPlot([495,652,790,915], gelItC, gelC3Med, gelC3Up, cx, [1.000,1.005,1.010,1.015,1.020,1.025,1.030], ['1.000','','1.010','','1.020','','1.030'], 'd.Placebo.SLIT_GP', '#8c8c8c', 1.8, [460, 665]);
gelPlot([86,243,994,1119], gelItC, gelC4Med, gelC4Up, cx, [1.00,1.01,1.02,1.03,1.04], ['1.00','1.01','1.02','1.03','1.04'], 'd.SCIT_DM.PharT', '#8c8c8c', 1.8, [53, 258]);
gelPlot([292,449,994,1119], gelItC, gelC5Med, gelC5Up, cx, [1.000,1.005,1.010,1.015,1.020,1.025,1.030], ['1.000','','1.010','','1.020','','1.030'], 'sd.d', '#222', 1.3, [258, 462]);

// Panel D
gelPlot([711,868,790,915], gelItD, gelD1Med, gelD1Up, dxT, [1.0,1.1,1.2,1.3,1.4], ['1.0','1.1','1.2','1.3','1.4'], 'd.Placebo.SLIT_DM', '#999', 1.8, [670, 885]);
gelPlot([916,1073,790,915], gelItD, gelD2Med, gelD2Up, dxT, [1.00,1.05,1.10,1.15], ['1.00','1.05','1.10','1.15'], 'd.Placebo.SLIT_GP', '#999', 1.8, [885, 1088]);
gelPlot([1122,1279,790,915], gelItD, gelD3Med, gelD3Up, dxT, [1.0,1.1,1.2,1.3,1.4], ['1.0','1.1','1.2','1.3','1.4'], 'd.SLIT_DM.PharT', '#999', 1.8, [1090, 1300]);
gelPlot([712,868,994,1119], gelItD, gelD4Med, gelD4Up, dxT, [1.00,1.04,1.08,1.12], ['1.00','1.04','1.08','1.12'], 'd.SLIT_DM.SCIT_DM', '#999', 1.8, [672, 885]);
gelPlot([917,1073,994,1119], gelItD, gelD5Med, gelD5Up, dxT, [1.0,1.1,1.2,1.3,1.4], ['1.0','1.1','1.2','1.3','1.4'], 'sd.d', '#999', 1.8, [885, 1090]);

// Panel letters
txt(42, 51, '<b>A</b>', 17);
txt(686, 51, '<b>B</b>', 17);
txt(42, 750, '<b>C</b>', 17);
txt(686, 750, '<b>D</b>', 17);

// Caption
const CAP = 'Open Sans, Noto Sans, sans-serif';
txt(36, 1181, 'FIGURE 4', 11.5, {xanchor:'left', font:{family:CAP, size:11.5, color:'#666'}});
txt(36, 1204, '<b>(A)</b> Trace and density plots for symptom scores. <b>(B)</b> Trace and density plots for adverse reactions. <b>(C)</b> Convergent diagnostic plots for symptom', 18.2, {xanchor:'left', font:{family:CAP, size:18.2, color:'#5a5a5a'}});
txt(36, 1227, 'scores. <b>(D)</b> Convergent diagnostic plots for adverse reactions.', 18.2, {xanchor:'left', font:{family:CAP, size:18.2, color:'#5a5a5a'}});

// frame lines
hline(0, W, 10, '#d0d0d0', 1);
layout.shapes.push({type:'line', xref:'paper', yref:'paper', x0:7/W, x1:7/W, y0:1-10/H, y1:0, line:{color:'#d0d0d0', width:1}});

Plotly.newPlot('chart', data, layout, {staticPlot:true, displayModeBar:false});
</script></body></html>
